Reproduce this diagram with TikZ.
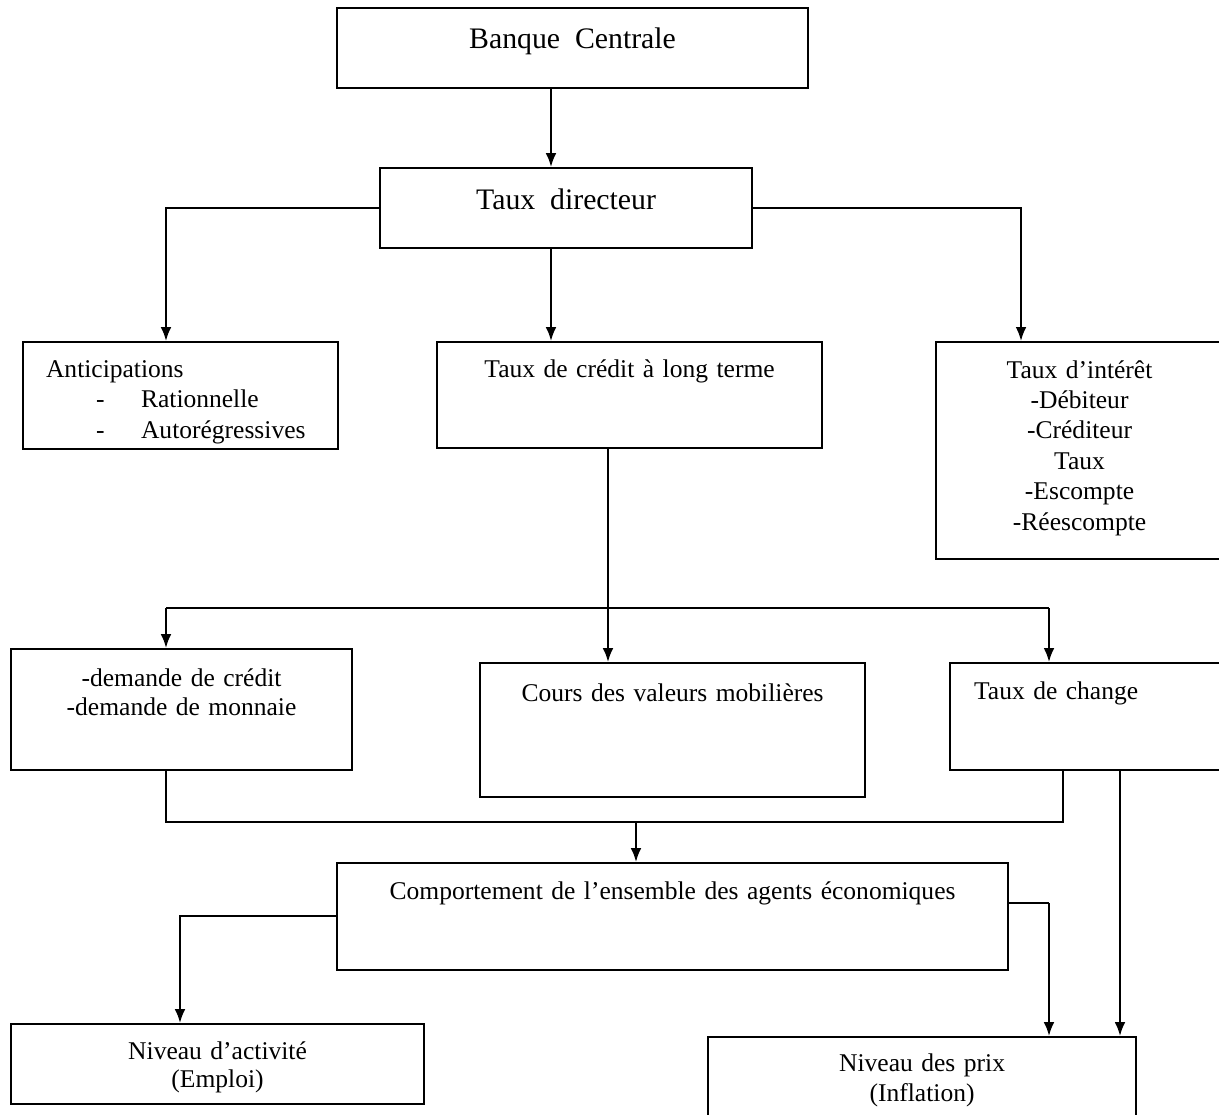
\documentclass[tikz,border=0pt]{standalone}
\usepackage{fontspec}
\setmainfont{Liberation Serif}
\usepackage{tikz}
\usetikzlibrary{arrows.meta}
\usetikzlibrary{positioning}
\newlength\pxu
\setlength\pxu{0.47pt}
\tikzstyle{block} = [rectangle, draw, line width=1pt, anchor=north west,
    inner sep=0pt, align=center, font=\fontsize{12}{14.5}\selectfont]
\tikzstyle{line} = [draw, -{Latex[length=6.5pt, width=5pt]}, line width=0.9pt]
\tikzstyle{wire} = [draw, line width=0.6pt]
\begin{document}
\begin{tikzpicture}[x=0.47pt, y=-0.47pt]
  \useasboundingbox [fill=white] (0,0) rectangle (1219,1115);

  \node [block, text width=471\pxu, text height=40\pxu, text depth=40\pxu,
    font=\fontsize{14}{17}\selectfont] (bc) at (336,7) {Banque\, Centrale};
  \node [block, text width=372\pxu, text height=41\pxu, text depth=39\pxu,
    font=\fontsize{14}{17}\selectfont] (td) at (379,167) {Taux\, directeur};

  \node [block, align=left, text width=315\pxu, text height=35\pxu, text depth=72\pxu]
    (ant) at (22,341) {\hspace*{23\pxu}Anticipations\\
    \hspace*{73\pxu}\makebox[45\pxu][l]{-}Rationnelle\\
    \hspace*{73\pxu}\makebox[45\pxu][l]{-}Autorégressives};
  \node [block, text width=385\pxu, text height=35\pxu, text depth=71\pxu]
    (tcl) at (436,341) {Taux de crédit à long terme};
  \node [block, text width=287\pxu, text height=36\pxu, text depth=181\pxu,
    font=\fontsize{12}{14.3}\selectfont] (ti) at (935,341)
    {Taux d’intérêt\\-Débiteur\\-Créditeur\\Taux\\-Escompte\\-Réescompte};

  \node [block, text width=341\pxu, text height=37\pxu, text depth=84\pxu,
    font=\fontsize{12}{13.6}\selectfont] (dem) at (10,648)
    {-demande de crédit\\-demande de monnaie};
  \node [block, text width=385\pxu, text height=38\pxu, text depth=96\pxu]
    (cvm) at (479,662) {Cours des valeurs mobilières};
  \node [block, align=left, text width=273\pxu, text height=36\pxu, text depth=71\pxu]
    (tch) at (949,662) {\hspace*{24\pxu}Taux de change};

  \node [block, text width=671\pxu, text height=36\pxu, text depth=71\pxu]
    (comp) at (336,862) {Comportement de l’ensemble des agents économiques};

  \node [block, text width=413\pxu, text height=35\pxu, text depth=45\pxu,
    font=\fontsize{12}{13.5}\selectfont] (na) at (10,1023)
    {Niveau d’activité\\(Emploi)};
  \node [block, text width=428\pxu, text height=34\pxu, text depth=60\pxu]
    (np) at (707,1036) {Niveau des prix\\(Inflation)};

  % columns and junctions of the connectors
  \coordinate (xtop) at (551,0);
  \coordinate (xleft) at (166,0);
  \coordinate (xti) at (1021,0);
  \coordinate (xtch) at (1049,0);
  \coordinate (xback) at (1063,0);
  \coordinate (xfx) at (1120,0);
  \coordinate (xact) at (180,0);
  \coordinate (split) at (608,608);
  \coordinate (merge) at (636,822);
  \coordinate (yprix) at (0,903);
  \coordinate (yact) at (0,916);

  \path [line] (bc.south -| xtop) -- (td.north -| xtop);
  \path [line] (td.west) -| (ant.north -| xleft);
  \path [line] (td.east) -| (ti.north -| xti);
  \path [line] (td.south -| xtop) -- (tcl.north -| xtop);

  \path [wire] (tcl.south -| split) -- (split);
  \path [line] (split) -- (split |- cvm.north);
  \path [wire] (split -| xleft) -- (split -| xtch);
  \path [line] (split -| xleft) -- (dem.north -| xleft);
  \path [line] (split -| xtch) -- (tch.north -| xtch);

  \path [wire] (dem.south -| xleft) |- (merge) -| (tch.south -| xback);
  \path [line] (merge) -- (merge |- comp.north);
  \path [line] (tch.south -| xfx) -- (np.north -| xfx);

  \path [wire] (comp.east |- yprix) -- (yprix -| xtch);
  \path [line] (yprix -| xtch) -- (np.north -| xtch);
  \path [line] (comp.west |- yact) -| (na.north -| xact);
\end{tikzpicture}
\end{document}
